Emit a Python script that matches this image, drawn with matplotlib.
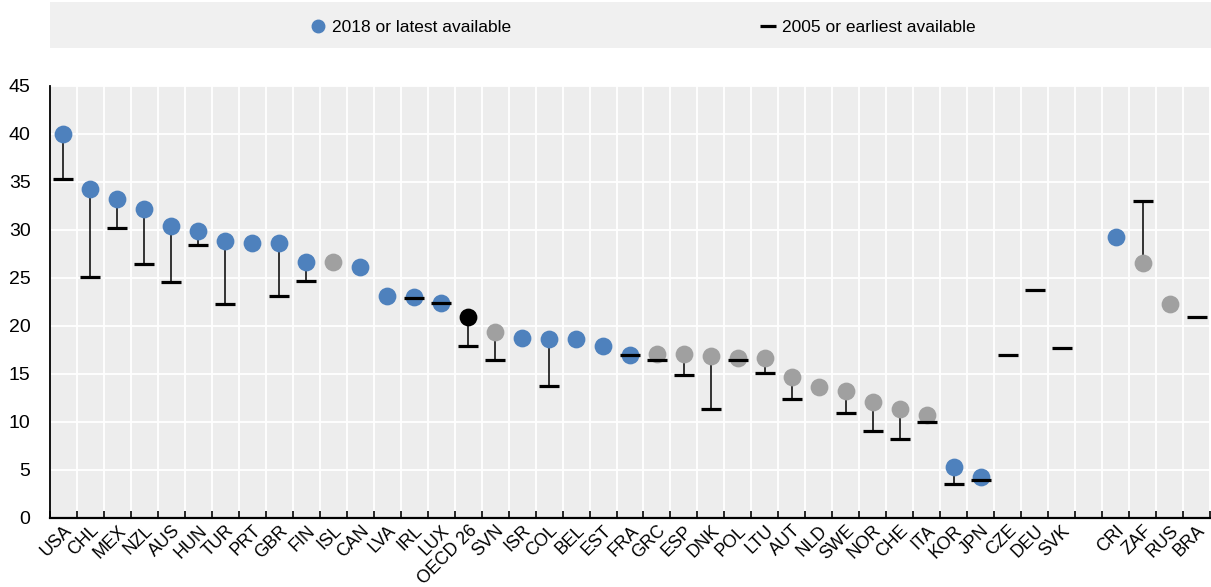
import matplotlib
matplotlib.use("Agg")
import matplotlib.pyplot as plt
from matplotlib.lines import Line2D
from matplotlib.patches import Rectangle
import numpy as np

plt.rcParams['font.family'] = ['Liberation Sans Narrow', 'Liberation Sans', 'DejaVu Sans']

### chart data: latest values (dots) and earliest values (dashes)
countries = ["USA", "CHL", "MEX", "NZL", "AUS", "HUN", "TUR", "PRT", "GBR", "FIN",
             "ISL", "CAN", "LVA", "IRL", "LUX", "OECD 26", "SVN", "ISR", "COL", "BEL",
             "EST", "FRA", "GRC", "ESP", "DNK", "POL", "LTU", "AUT", "NLD", "SWE",
             "NOR", "CHE", "ITA", "KOR", "JPN", "CZE", "DEU", "SVK", "",
             "CRI", "ZAF", "RUS", "BRA"]
latest = [40.0, 34.3, 33.2, 32.2, 30.4, 29.9, 28.9, 28.6, 28.6, 26.7,
          26.7, 26.1, 23.1, 23.0, 22.4, 20.9, 19.4, 18.75, 18.6, 18.6,
          17.9, 17.0, 17.1, 17.1, 16.9, 16.7, 16.7, 14.7, 13.6, 13.2,
          12.1, 11.4, 10.7, 5.3, 4.3, None, None, None, None,
          29.3, 26.6, 22.3, None]
earliest = [35.3, 25.1, 30.2, 26.5, 24.6, 28.4, 22.3, None, 23.1, 24.7,
            None, None, None, 22.9, 22.4, 17.9, 16.5, None, 13.8, None,
            None, 17.0, 16.5, 14.9, 11.4, 16.5, 15.1, 12.4, None, 10.9,
            9.1, 8.2, 10.0, 3.5, 4.0, 17.0, 23.7, 17.7, None,
            None, 33.0, None, 20.9]
# "b" = 2018 data, "g" = latest other year, "k" = OECD average
dot_kind = ["b", "b", "b", "b", "b", "b", "b", "b", "b", "b",
            "g", "b", "b", "b", "b", "k", "g", "b", "b", "b",
            "b", "b", "g", "g", "g", "g", "g", "g", "g", "g",
            "g", "g", "g", "b", "b", "", "", "", "",
            "b", "g", "g", ""]

BLUE = "#4e81bd"
GREY = "#a0a0a0"
colors = {"b": BLUE, "g": GREY, "k": "#000000"}

fig = plt.figure(figsize=(12.11, 5.87), dpi=100)
ax = fig.add_axes([50/1211, 69/587, 1160/1211, 432/587])
ax.set_facecolor("#ededed")

x = np.arange(len(countries))

# connector lines
for i in x:
    if latest[i] is not None and earliest[i] is not None:
        ax.plot([i, i], [latest[i], earliest[i]], color="black", lw=1.1, zorder=2)

# dots
for i in x:
    if latest[i] is not None:
        ax.plot(i, latest[i], 'o', color=colors[dot_kind[i]], markersize=12.8,
                markeredgewidth=0, zorder=3)

# dashes
for i in x:
    if earliest[i] is not None:
        ax.plot(i, earliest[i], '_', color="black", markersize=15,
                markeredgewidth=2.3, zorder=4)

ax.set_xlim(-0.5, len(countries) - 0.5)
ax.set_ylim(0, 45)
ax.set_yticks(np.arange(0, 46, 5))
ax.set_xticks(x)
ax.set_xticklabels(countries, rotation=45, ha="right", rotation_mode="anchor", fontsize=12.8)
ax.set_xticks(np.arange(-0.5, len(countries), 1), minor=True)
ax.tick_params(axis="x", which="major", length=0, pad=3)
ax.tick_params(axis="x", which="minor", length=5, width=1.2, direction="in")
ax.tick_params(axis="y", length=0, labelsize=14, pad=14)

ax.grid(False)
for yv in np.arange(5, 46, 5):
    ax.axhline(yv, color="white", lw=1.3, zorder=1)
for xv in np.arange(-0.5, len(countries), 1)[1:]:
    ax.axvline(xv, color="white", lw=1.3, zorder=1)

for s in ["top", "right"]:
    ax.spines[s].set_visible(False)
ax.spines["left"].set_linewidth(1.3)
ax.spines["bottom"].set_linewidth(1.6)

# legend box at top
fig.patches.append(Rectangle((50/1211, 539/587), 1161/1211, 46/587,
                             transform=fig.transFigure, facecolor="#f0f0f0",
                             edgecolor="none", zorder=0))
handles = [Line2D([], [], marker='o', color=BLUE, linestyle='none', markersize=9),
           Line2D([], [], marker='_', color='black', linestyle='none',
                  markersize=12, markeredgewidth=2.3)]
fig.legend(handles, ["2018 or latest available", "2005 or earliest available"],
           ncol=2, loc="center", bbox_to_anchor=(0.53, 0.953), frameon=False,
           fontsize=12.5, columnspacing=14.2, handletextpad=0.2, handlelength=1.2)

fig.savefig("out.png", dpi=100)
